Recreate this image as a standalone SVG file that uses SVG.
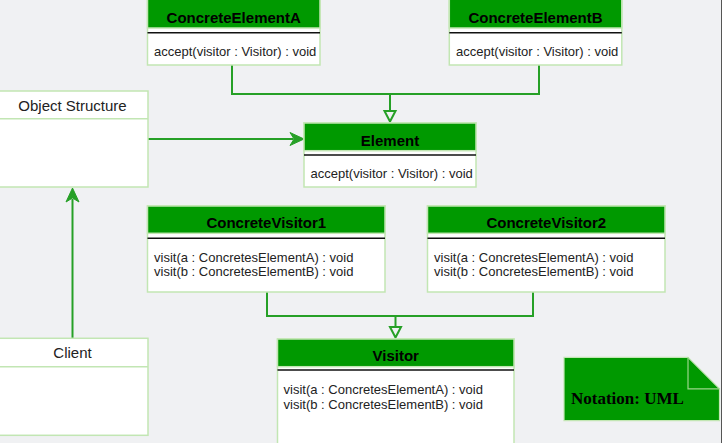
<svg xmlns="http://www.w3.org/2000/svg" width="722" height="443" viewBox="0 0 722 443">
<style>
.bg{fill:#f0f1f3}
.box{fill:#ffffff;stroke:#c2e6b3;stroke-width:1.5}
.hdr{fill:#009900;stroke:#c2e6b3;stroke-width:1.5}
.sep{stroke:#111;stroke-width:1.5}
.ht{font-family:"Liberation Sans",Arial,sans-serif;font-weight:bold;font-size:15px;fill:#000;text-anchor:middle}
.bt{font-family:"Liberation Sans",Arial,sans-serif;font-size:13px;fill:#222}
.pt{font-family:"Liberation Sans",Arial,sans-serif;font-size:15px;fill:#222;text-anchor:middle}
.ln{fill:none;stroke:#26a026;stroke-width:2}
.tri{fill:#f0f1f3;stroke:#26a026;stroke-width:2}
.arr{fill:#26a026;stroke:#26a026;stroke-width:1}
</style>
<rect class="bg" x="0" y="0" width="722" height="443"/>
<line x1="721.5" y1="0" x2="721.5" y2="443" stroke="#555" stroke-width="1"/>

<g id="connectors">
  <polyline class="ln" points="232,65 232,94 390,94 390,111"/>
  <polyline class="ln" points="539,65 539,94 390,94"/>
  <polygon class="tri" points="384.5,111 395.5,111 390,121.5"/>
  <line class="ln" x1="148" y1="139" x2="293" y2="139"/>
  <polygon class="arr" points="304,139 290,132.5 294,139 290,145.5"/>
  <line class="ln" x1="72.5" y1="338" x2="72.5" y2="199"/>
  <polygon class="arr" points="72.5,188 66,202 72.5,198 79,202"/>
  <polyline class="ln" points="267,292 267,316 533,316 533,292"/>
  <line class="ln" x1="395.5" y1="316" x2="395.5" y2="327"/>
  <polygon class="tri" points="390,327 401,327 395.5,337.5"/>
</g>

<g id="object-structure">
  <rect class="box" x="-2" y="91" width="150" height="96"/>
  <line x1="-2" y1="118.7" x2="148" y2="118.7" stroke="#c2e6b3" stroke-width="1.5"/>
  <text class="pt" x="72.5" y="110.5">Object Structure</text>
</g>

<g id="client">
  <rect class="box" x="-2" y="338.3" width="150" height="97"/>
  <line x1="-2" y1="366.7" x2="148" y2="366.7" stroke="#c2e6b3" stroke-width="1.5"/>
  <text class="pt" x="72.5" y="358">Client</text>
</g>

<g id="concrete-element-a">
  <rect class="box" x="147.5" y="-2" width="172.5" height="67"/>
  <rect class="hdr" x="147.5" y="-2" width="172.5" height="30"/>
  <line class="sep" x1="147.5" y1="32.7" x2="320" y2="32.7"/>
  <text class="ht" x="233.7" y="22.5">ConcreteElementA</text>
  <text class="bt" x="154" y="56">accept(visitor : Visitor) : void</text>
</g>

<g id="concrete-element-b">
  <rect class="box" x="449.3" y="-2" width="172.5" height="67"/>
  <rect class="hdr" x="449.3" y="-2" width="172.5" height="30"/>
  <line class="sep" x1="449.3" y1="32.7" x2="621.8" y2="32.7"/>
  <text class="ht" x="535.5" y="22.5">ConcreteElementB</text>
  <text class="bt" x="456" y="56">accept(visitor : Visitor) : void</text>
</g>

<g id="element">
  <rect class="box" x="304" y="123" width="172" height="64"/>
  <rect class="hdr" x="304" y="123" width="172" height="27.7"/>
  <line class="sep" x1="304" y1="155" x2="476" y2="155"/>
  <text class="ht" x="390" y="145.5">Element</text>
  <text class="bt" x="310.5" y="177.5">accept(visitor : Visitor) : void</text>
</g>

<g id="concrete-visitor-1">
  <rect class="box" x="147.5" y="206" width="237.5" height="86"/>
  <rect class="hdr" x="147.5" y="206" width="237.5" height="27.3"/>
  <line class="sep" x1="147.5" y1="238.3" x2="385" y2="238.3"/>
  <text class="ht" x="266.3" y="228">ConcreteVisitor1</text>
  <text class="bt" x="154" y="261.5">visit(a : ConcretesElementA) : void</text>
  <text class="bt" x="154" y="276">visit(b : ConcretesElementB) : void</text>
</g>

<g id="concrete-visitor-2">
  <rect class="box" x="427.5" y="206" width="237.5" height="86"/>
  <rect class="hdr" x="427.5" y="206" width="237.5" height="27.3"/>
  <line class="sep" x1="427.5" y1="238.3" x2="665" y2="238.3"/>
  <text class="ht" x="546.3" y="228">ConcreteVisitor2</text>
  <text class="bt" x="434" y="261.5">visit(a : ConcretesElementA) : void</text>
  <text class="bt" x="434" y="276">visit(b : ConcretesElementB) : void</text>
</g>

<g id="visitor">
  <rect class="box" x="277.5" y="339" width="236.5" height="110"/>
  <rect class="hdr" x="277.5" y="339" width="236.5" height="27.7"/>
  <line class="sep" x1="277.5" y1="370" x2="514" y2="370"/>
  <text class="ht" x="395.7" y="360.5">Visitor</text>
  <text class="bt" x="283.5" y="394">visit(a : ConcretesElementA) : void</text>
  <text class="bt" x="283.5" y="409">visit(b : ConcretesElementB) : void</text>
</g>

<g id="note">
  <polygon points="564,357.3 688,357.3 719.5,388.8 719.5,420.7 564,420.7" fill="#009900" stroke="#c2e6b3" stroke-width="1.2"/>
  <polyline points="688,357.3 688,388.8 719.5,388.8" fill="none" stroke="#9ad88a" stroke-width="1.2"/>
  <text x="571" y="403.5" font-family="'Liberation Serif','Times New Roman',serif" font-weight="bold" font-size="17" fill="#000">Notation: UML</text>
</g>
</svg>
